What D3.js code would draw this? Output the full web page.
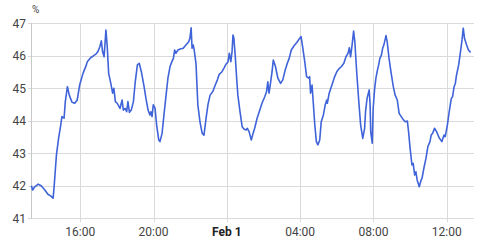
<!DOCTYPE html>
<html>
<head>
<meta charset="utf-8">
<script src="https://cdn.jsdelivr.net/npm/d3@7"></script>
<style>
  body { margin: 0; background: #fff; }
  svg { display: block; font-family: Roboto, sans-serif; }
  .grid line { stroke: #dadada; shape-rendering: crispEdges; }
  .axis text { fill: #444; font-size: 12px; }
  .line { fill: none; stroke: #3f63d8; stroke-width: 1.6; stroke-linejoin: round; }
</style>
</head>
<body>
<svg id="chart"></svg>
<script>
// series start, then minutes since start
const startTime = new Date(2024, 0, 31, 13, 20);
const minutes = [
  0, 4, 11, 22, 32, 44, 54, 63, 71, 74, 82, 89, 96, 100, 107, 111, 118, 124, 133, 142, 150, 158, 169, 180,
  183, 194, 203, 211, 218, 224, 229, 233, 238, 244, 248, 253, 260, 266, 270, 275, 281, 290, 297, 301, 307, 312,
  316, 321, 327, 334, 340, 347, 353, 360,
  369, 375, 382, 388, 391, 395, 399, 405, 410, 417, 421, 428, 434, 441, 447, 454, 460, 465, 469, 473, 480, 487,
  497, 506, 515, 519, 523, 526, 530, 533, 539, 545,
  552, 559, 565, 572, 578, 585, 594, 602, 609, 615, 624, 631, 637, 644, 648, 653, 657, 660, 663, 668, 672, 676,
  683, 690, 696, 703, 707, 713, 720, 726,
  731, 739, 746, 755, 764, 770, 774, 778, 782, 788, 792, 799, 807, 816, 823, 831, 838, 844, 851, 860, 869, 877,
  883, 888, 895, 901, 908,
  911, 914, 919, 923, 928, 933, 938, 944, 949, 956, 962, 967, 969, 975, 984, 993, 1000, 1006, 1015, 1023, 1030,
  1037, 1041, 1045, 1050, 1055, 1059, 1065, 1072, 1078, 1085, 1091,
  1094, 1099, 1106, 1109, 1111, 1116, 1119, 1124, 1128, 1133, 1137, 1141, 1146, 1150, 1154, 1161, 1165, 1171,
  1178, 1185, 1191, 1198, 1204, 1211, 1218, 1224, 1231, 1235, 1240, 1246, 1250, 1255, 1259, 1263, 1270, 1276,
  1279, 1285, 1292, 1298, 1305, 1309, 1314, 1320, 1327, 1335, 1344, 1351, 1355, 1362, 1368, 1375, 1379, 1384,
  1388, 1392, 1399, 1405, 1410, 1414, 1418, 1425, 1431, 1438
];
const humidity = [
  42.0, 41.87, 41.97, 42.05, 42.0, 41.87, 41.74, 41.69, 41.62, 41.92, 42.95, 43.46, 43.87, 44.13, 44.08, 44.59, 45.05, 44.79, 44.57, 44.54, 44.64, 45.1, 45.46, 45.72,
  45.82, 45.94, 46.0, 46.05, 46.13, 46.28, 46.46, 46.13, 45.97, 46.79, 46.33, 45.46, 45.15, 44.85, 45.0, 44.59, 44.54, 44.38, 44.64, 44.33, 44.38, 44.28,
  44.59, 44.26, 44.33, 44.59, 45.2, 45.72, 45.77, 45.51,
  45.05, 44.69, 44.33, 44.18, 44.28, 44.13, 44.49, 44.38, 43.87, 43.41, 43.36, 43.62, 44.18, 44.79, 45.31, 45.67, 45.82, 45.92, 46.18, 46.08, 46.18, 46.21,
  46.23, 46.33, 46.43, 46.54, 46.86, 46.23, 46.33, 46.18, 45.75, 44.49,
  43.97, 43.62, 43.56, 44.08, 44.49, 44.79, 44.9, 45.1, 45.26, 45.43, 45.51, 45.63, 45.74, 45.82, 46.08, 45.82, 46.13, 46.64, 46.54, 45.92, 45.31, 44.79,
  44.28, 43.82, 43.75, 43.72, 43.77, 43.66, 43.41, 43.62,
  43.77, 44.08, 44.28, 44.54, 44.74, 44.9, 45.2, 44.85, 45.1, 45.51, 45.87, 45.67, 45.31, 45.15, 45.26, 45.56, 45.77, 45.92, 46.18, 46.31, 46.41, 46.52,
  46.59, 46.28, 45.82, 45.36, 45.31,
  45.36, 44.85, 45.1, 44.54, 43.87, 43.36, 43.26, 43.41, 43.97, 44.18, 44.49, 44.64, 44.54, 44.85, 45.1, 45.36, 45.51, 45.59, 45.67, 45.77, 45.97,
  46.08, 46.25, 45.97, 46.33, 46.76, 46.43, 45.51, 44.59, 43.87, 43.46, 43.77,
  44.28, 44.69, 44.95, 44.49, 43.66, 43.31, 44.38, 45.0, 45.31, 45.56, 45.72, 45.92, 46.02, 46.23, 46.33, 46.62, 46.43, 45.92,
  45.46, 45.05, 44.79, 44.64, 44.23, 44.13, 44.03, 43.97, 43.99, 43.66, 43.15, 42.64, 42.69, 42.33, 42.43, 42.18, 41.97, 42.18,
  42.23, 42.54, 42.85, 43.2, 43.36, 43.56, 43.62, 43.77, 43.66, 43.48, 43.36, 43.56, 43.51, 43.87, 44.28, 44.69, 44.74, 45.05,
  45.15, 45.41, 45.72, 46.13, 46.49, 46.85, 46.54, 46.33, 46.18, 46.1
];
const yTicks = [41, 42, 43, 44, 45, 46, 47];
const xTickLabels = ["16:00", "20:00", "Feb 1", "04:00", "08:00", "12:00"];
const unitLabel = "%";

const W = 478, H = 242;
const svg = d3.select("#chart").attr("width", W).attr("height", H);

const data = minutes.map((m, i) => ({ t: d3.timeMinute.offset(startTime, m), v: humidity[i] }));

const x = d3.scaleTime()
  .domain([startTime, d3.timeMinute.offset(startTime, 1440)])
  .range([31.4, 471.2]);
const y = d3.scaleLinear().domain([41, 47]).range([218.3, 23.3]);

const xTicks = d3.timeHour.every(4).range(startTime, d3.timeMinute.offset(startTime, 1440));

// horizontal grid
svg.append("g").attr("class", "grid")
  .selectAll("line").data(yTicks).enter().append("line")
  .attr("x1", 28).attr("x2", 474)
  .attr("y1", d => Math.round(y(d)) + 0.5).attr("y2", d => Math.round(y(d)) + 0.5);

// vertical grid
svg.append("g").attr("class", "grid")
  .selectAll("line").data(xTicks).enter().append("line")
  .attr("x1", d => Math.round(x(d)) + 0.5).attr("x2", d => Math.round(x(d)) + 0.5)
  .attr("y1", 23).attr("y2", 222);

// left axis line
svg.append("line").attr("x1", 31.5).attr("x2", 31.5).attr("y1", 23).attr("y2", 219)
  .attr("stroke", "#c8c8c8").attr("shape-rendering", "crispEdges");

// y labels
const yAxis = svg.append("g").attr("class", "axis");
yAxis.selectAll("text").data(yTicks).enter().append("text")
  .attr("x", 26).attr("y", d => y(d) + 4.5)
  .attr("text-anchor", "end")
  .text(d => d);
yAxis.append("text").attr("x", 32).attr("y", 13).style("font-size", "10px").text(unitLabel);

// x labels
const xAxis = svg.append("g").attr("class", "axis");
xAxis.selectAll("text").data(xTicks).enter().append("text")
  .attr("x", d => x(d)).attr("y", 235.5)
  .attr("text-anchor", "middle")
  .style("font-weight", (d, i) => xTickLabels[i] === "Feb 1" ? "bold" : null)
  .style("fill", (d, i) => xTickLabels[i] === "Feb 1" ? "#222" : null)
  .text((d, i) => xTickLabels[i]);

// the series
const line = d3.line().x(d => x(d.t)).y(d => y(d.v));
svg.append("path").datum(data).attr("class", "line").attr("d", line);
</script>
</body>
</html>
